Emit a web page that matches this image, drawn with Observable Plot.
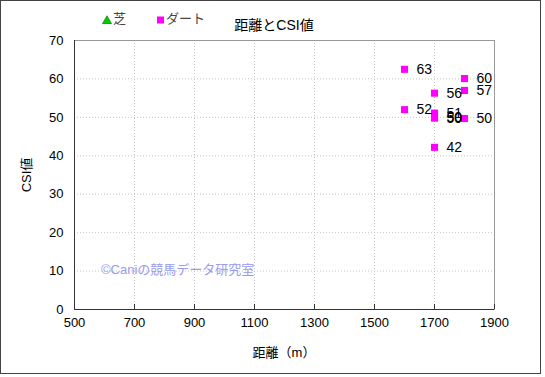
<!DOCTYPE html>
<html>
<head>
<meta charset="utf-8">
<script src="https://cdn.jsdelivr.net/npm/d3@7"></script>
<script src="https://cdn.jsdelivr.net/npm/@observablehq/plot@0.6"></script>
<style>
  html, body { margin: 0; padding: 0; background: #fff; }
  #chart { position: relative; width: 545px; height: 377px; }
</style>
</head>
<body>
<div id="chart"></div>
<script>
// ---- data ----
const title = "距離とCSI値";
const xLabel = "距離（m）";
const yLabel = "CSI値";
const watermark = "©Caniの競馬データ研究室";
const seriesNames = ["芝", "ダート"];
const turfDist = [];
const turfCSI = [];
const dirtDist = [1600, 1600, 1700, 1700, 1700, 1700, 1700, 1800, 1800, 1800];
const dirtCSI  = [62.5, 52.0, 56.3, 51.1, 50.0, 49.8, 42.2, 60.1, 57.0, 49.7];
const xTicks = [500, 700, 900, 1100, 1300, 1500, 1700, 1900];
const yTicks = [0, 10, 20, 30, 40, 50, 60, 70];

const dirt = dirtDist.map((d, i) => ({dist: d, csi: dirtCSI[i], label: String(Math.round(dirtCSI[i]))}));
const turf = turfDist.map((d, i) => ({dist: d, csi: turfCSI[i], label: String(Math.round(turfCSI[i]))}));

const font = "'Liberation Sans', 'Noto Sans CJK JP', sans-serif";

const plot = Plot.plot({
  width: 545,
  height: 377,
  marginLeft: 74,
  marginRight: 51,
  marginTop: 40,
  marginBottom: 68,
  style: {fontFamily: font, fontSize: "13px", color: "#000", background: "#fff", overflow: "visible"},
  x: {domain: [500, 1900]},
  y: {domain: [0, 70]},
  marks: [
    Plot.gridX(xTicks, {stroke: "#c4c4c4", strokeOpacity: 1, strokeDasharray: "1,2"}),
    Plot.gridY(yTicks, {stroke: "#c4c4c4", strokeOpacity: 1, strokeDasharray: "1,2"}),
    Plot.frame({stroke: "#999"}),
    Plot.ruleX([500], {stroke: "#333"}),
    Plot.ruleY([0], {stroke: "#333"}),
    Plot.axisX(xTicks, {tickSize: -5, tickPadding: 13, stroke: "#333", fontSize: 13, tickFormat: d3.format("d"), label: null}),
    Plot.axisY(yTicks, {tickSize: 0, tickPadding: 11, fontSize: 13, tickFormat: d3.format("d"), label: null}),
    Plot.dot(turf, {x: "dist", y: "csi", symbol: "triangle", fill: "#00cc00", stroke: "#006600", r: 4}),
    Plot.text(turf, {x: "dist", y: "csi", text: "label", dx: 12, textAnchor: "start", fontSize: 14}),
    Plot.dot(dirt, {x: "dist", y: "csi", symbol: "square", fill: "#ff00ff", r: 4}),
    Plot.text(dirt, {x: "dist", y: "csi", text: "label", dx: 12, textAnchor: "start", fontSize: 14})
  ]
});

const svg = d3.select(plot);
// outer border
svg.append("rect").attr("x", 0.5).attr("y", 0.5).attr("width", 540).attr("height", 373)
  .attr("fill", "none").attr("stroke", "#444");
// title
svg.append("text").attr("x", 274).attr("y", 26).attr("text-anchor", "middle").attr("dominant-baseline", "middle")
  .attr("font-size", 14).attr("fill", "#000").text(title);
// legend
svg.append("path").attr("d", d3.symbol(d3.symbolTriangle, 36)()).attr("transform", "translate(107,21)")
  .attr("fill", "#00cc00").attr("stroke", "#006600").attr("stroke-width", 0.6);
svg.append("text").attr("x", 113).attr("y", 20).attr("text-anchor", "start").attr("dominant-baseline", "middle")
  .attr("font-size", 13).attr("fill", "#444").text(seriesNames[0]);
svg.append("rect").attr("x", 157).attr("y", 16.5).attr("width", 7).attr("height", 7).attr("fill", "#ff00ff");
svg.append("text").attr("x", 166).attr("y", 20).attr("text-anchor", "start").attr("dominant-baseline", "middle")
  .attr("font-size", 13).attr("fill", "#444").text(seriesNames[1]);
// axis labels
svg.append("text").attr("x", 284).attr("y", 354).attr("text-anchor", "middle").attr("dominant-baseline", "middle")
  .attr("font-size", 13).attr("fill", "#000").text(xLabel);
svg.append("text").attr("transform", "translate(28,175) rotate(-90)").attr("text-anchor", "middle")
  .attr("dominant-baseline", "middle").attr("font-size", 13).attr("fill", "#000").text(yLabel);
// watermark
svg.append("text").attr("x", 101).attr("y", 271).attr("text-anchor", "start").attr("dominant-baseline", "middle")
  .attr("font-size", 13).attr("fill", "#9a9aee").text(watermark);

document.getElementById("chart").appendChild(plot);
</script>
</body>
</html>
